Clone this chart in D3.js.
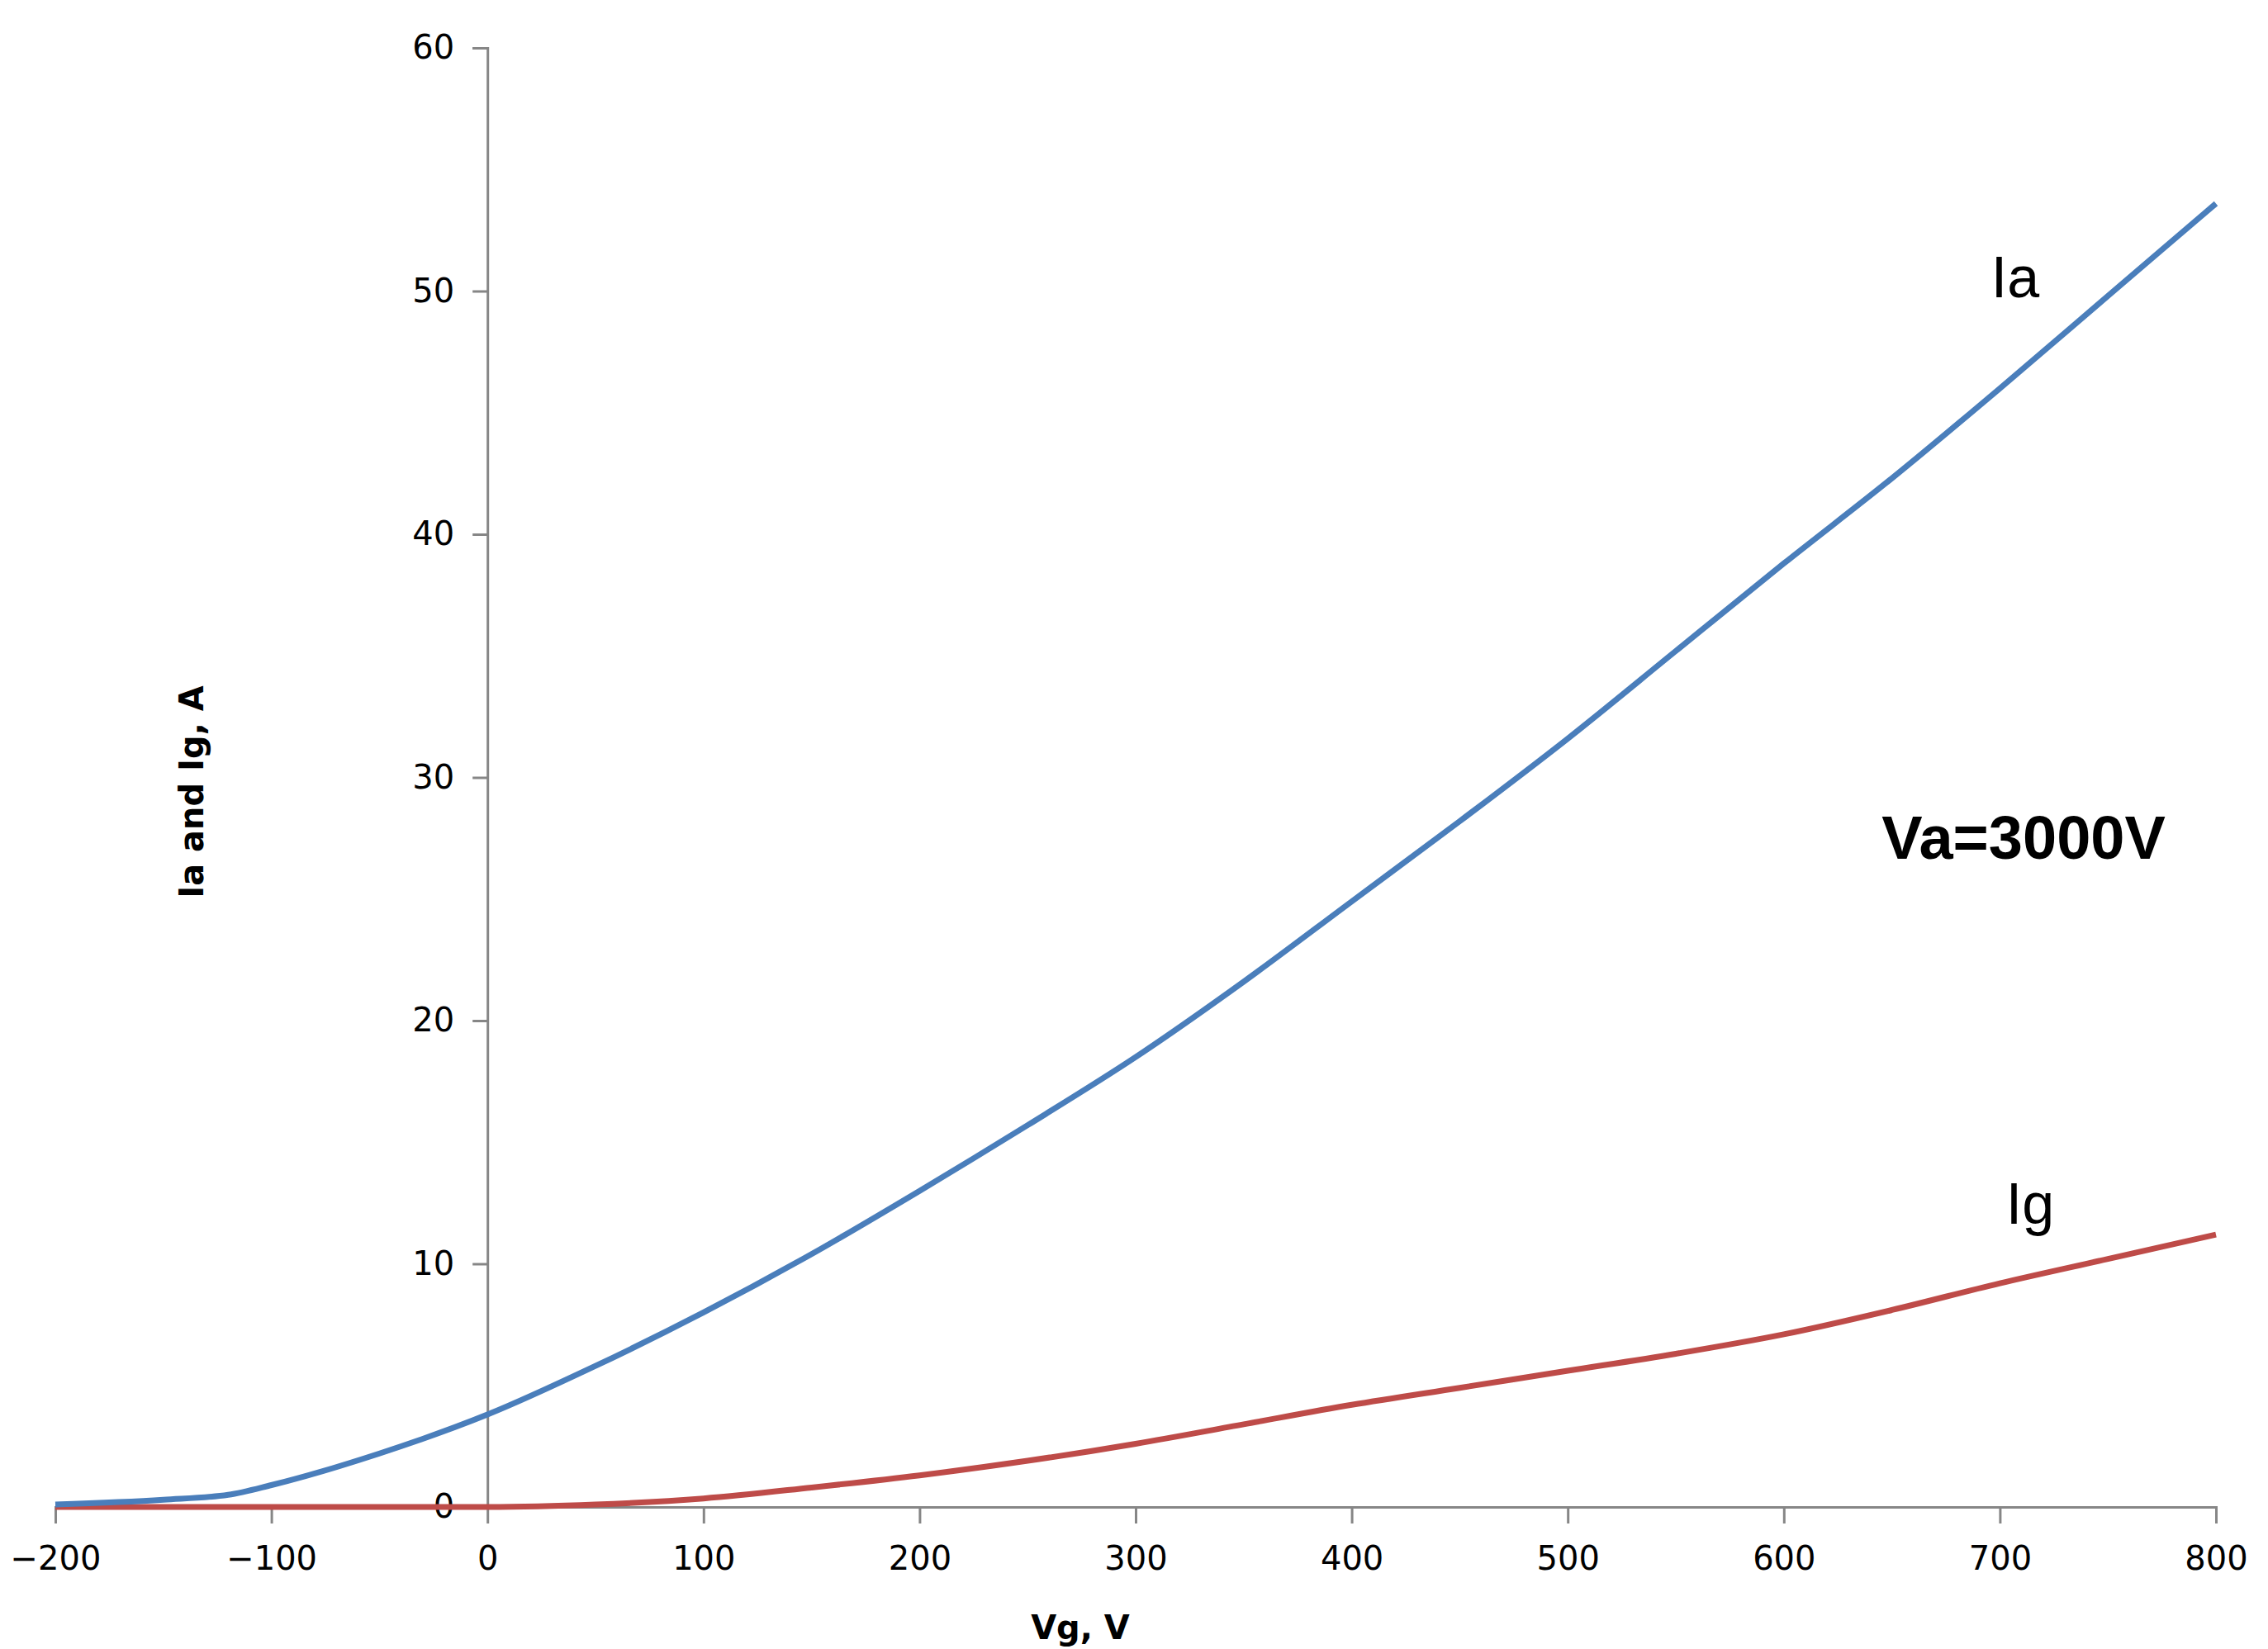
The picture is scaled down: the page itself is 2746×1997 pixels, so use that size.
<!DOCTYPE html>
<html><head><meta charset="utf-8">
<script src="https://cdn.jsdelivr.net/npm/d3@7"></script>
<style>body{margin:0;background:#fff}</style></head>
<body><svg id="c" width="2746" height="1997"></svg>
<script>
const vg = [-200,-150,-120,-100,-50,0,50,100,150,200,250,300,350,400,450,500,550,600,650,700,750,800];
const ia = [0.1,0.3,0.5,0.9,2.2,3.8,5.8,8.0,10.4,13.0,15.7,18.5,21.6,24.9,28.2,31.6,35.2,38.8,42.3,46.0,49.8,53.6];
const ig = [0,0,0,0,0,0,0.1,0.35,0.8,1.3,1.9,2.6,3.4,4.2,4.9,5.6,6.3,7.1,8.1,9.2,10.2,11.2];
const xTicks = [-200,-100,0,100,200,300,400,500,600,700,800];
const yTicks = [0,10,20,30,40,50,60];

const svg = d3.select('#c');
const x = d3.scaleLinear().domain([-200,800]).range([67,2683]);
const y = d3.scaleLinear().domain([0,60]).range([1825,58]);
const font = 'DejaVu Sans, Verdana, sans-serif';
const grey = '#868686';

const xa = svg.append('g').attr('transform',`translate(0,${y(0)})`)
  .call(d3.axisBottom(x).tickValues(xTicks).tickSize(20).tickPadding(28).tickFormat(d3.format('d')));
const ya = svg.append('g').attr('transform',`translate(${x(0)},0)`)
  .call(d3.axisLeft(y).tickValues(yTicks).tickSize(18).tickPadding(22).tickFormat(d3.format('d')));
[xa,ya].forEach(a=>{
  a.selectAll('path,line').attr('stroke',grey).attr('stroke-width',3);
  a.selectAll('text').attr('font-family',font).attr('font-size',40).attr('fill','#000');
});
ya.select('.tick text').filter((d)=>false);

const line = d3.line().x((d,i)=>x(vg[i])).y(d=>y(d)).curve(d3.curveMonotoneX);
svg.append('path').datum(ig).attr('d',line).attr('fill','none').attr('stroke','#be4b48').attr('stroke-width',7);
svg.append('path').datum(ia).attr('d',line).attr('fill','none').attr('stroke','#4a7ebb').attr('stroke-width',7);

svg.append('text').attr('x',2440).attr('y',360).attr('text-anchor','middle')
  .attr('font-family','Liberation Sans, Arial, sans-serif').attr('font-size',70).text('Ia');
svg.append('text').attr('x',2458).attr('y',1482).attr('text-anchor','middle')
  .attr('font-family','Liberation Sans, Arial, sans-serif').attr('font-size',70).text('Ig');
svg.append('text').attr('x',2450).attr('y',1040).attr('text-anchor','middle')
  .attr('font-family','Liberation Sans, Arial, sans-serif').attr('font-weight','bold').attr('font-size',74).text('Va=3000V');
svg.append('text').attr('x',1308).attr('y',1985).attr('text-anchor','middle')
  .attr('font-family',font).attr('font-weight','bold').attr('font-size',40).text('Vg, V');
svg.append('text').attr('transform','translate(246,959) rotate(-90)').attr('text-anchor','middle')
  .attr('font-family',font).attr('font-weight','bold').attr('font-size',40).text('Ia and Ig, A');
</script></body></html>
